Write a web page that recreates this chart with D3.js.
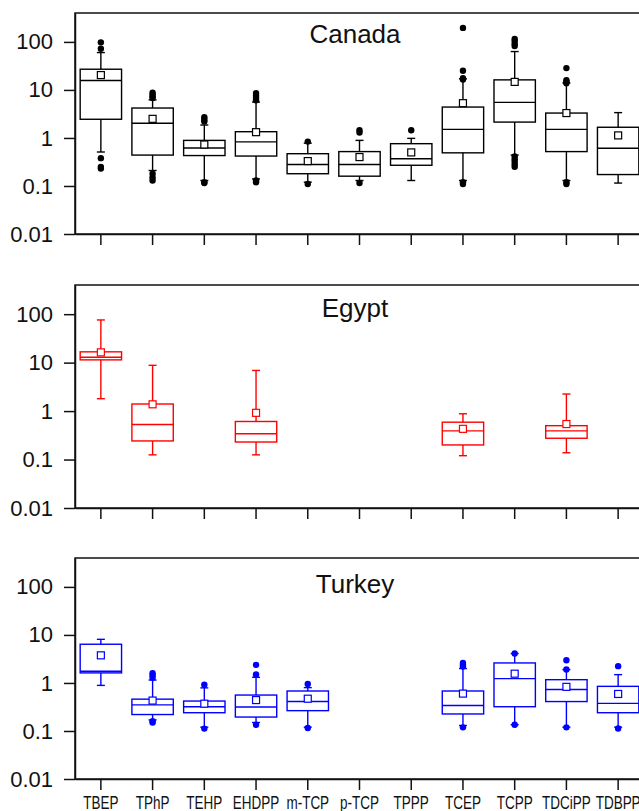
<!DOCTYPE html>
<html>
<head>
<meta charset="utf-8">
<script src="https://cdn.jsdelivr.net/npm/d3@7"></script>
<style>
  body { margin: 0; background: #fff; }
  svg { display: block; font-family: "Liberation Sans", Arial, sans-serif; }
</style>
</head>
<body>
<div class="chart"></div>
<script>

var width = 639,
    height = 811;

// compounds on the x axis
var categories = ["TBEP", "TPhP", "TEHP", "EHDPP", "m-TCP", "p-TCP", "TPPP", "TCEP", "TCPP", "TDCiPP", "TDBPP"];
var countries = ["Canada", "Egypt", "Turkey"];
var yTicks = [0.01, 0.1, 1, 10, 100];

// per compound: [lowWhisker, q1, median, q3, highWhisker, mean], null = not detected
var canadaStats = [
    [0.51, 2.45, 15.7, 27, 60, 20.4],
    [0.21, 0.44, 2.02, 4.2, 6.2, 2.5],
    [0.13, 0.43, 0.62, 0.89, 1.86, 0.73],
    [0.14, 0.42, 0.83, 1.35, 5.6, 1.32],
    [0.12, 0.18, 0.28, 0.47, 0.78, 0.33],
    [0.13, 0.16, 0.28, 0.52, 0.89, 0.40],
    [0.13, 0.27, 0.37, 0.76, 0.98, 0.5],
    [0.13, 0.49, 1.51, 4.4, 17, 5.3],
    [0.44, 2.14, 5.5, 16.2, 63, 14.7],
    [0.13, 0.52, 1.51, 3.3, 14, 3.3],
    [0.115, 0.173, 0.61, 1.67, 3.37, 1.13]
];
var canadaOutliers = [
    [98, 72, 0.38, 0.25, 0.23],
    [8.8, 8.0, 7.3, 6.8, 0.18, 0.15, 0.13],
    [2.7, 2.4, 2.2, 0.12, 0.115],
    [8.6, 7.6, 6.8, 6.1, 0.13, 0.12],
    [0.84, 0.11],
    [1.45, 1.3, 0.115],
    [1.45],
    [196, 25, 17.6, 16.5, 0.12, 0.11],
    [115, 105, 92, 82, 0.41, 0.36, 0.32, 0.28, 0.25],
    [28.5, 16, 14.8, 13.8, 0.12, 0.11],
    []
];

var egyptStats = [
    [1.8, 11.4, 12.9, 16.7, 76, 16.3],
    [0.125, 0.242, 0.527, 1.40, 8.8, 1.38],
    null,
    [0.125, 0.23, 0.34, 0.61, 6.9, 0.92],
    null,
    null,
    null,
    [0.12, 0.2, 0.39, 0.59, 0.88, 0.43],
    null,
    [0.138, 0.275, 0.39, 0.50, 2.25, 0.54],
    null
];
var egyptOutliers = [[], [], [], [], [], [], [], [], [], [], []];

var turkeyStats = [
    [0.89, 1.62, 1.75, 6.4, 8.1, 3.76],
    [0.17, 0.22, 0.35, 0.46, 1.15, 0.43],
    [0.12, 0.24, 0.32, 0.42, 0.79, 0.37],
    [0.15, 0.195, 0.316, 0.56, 1.31, 0.44],
    [0.12, 0.265, 0.41, 0.68, 0.8, 0.47],
    null,
    null,
    [0.13, 0.226, 0.34, 0.68, 2.0, 0.60],
    [0.135, 0.32, 1.23, 2.61, 4.1, 1.56],
    [0.12, 0.41, 0.73, 1.17, 1.9, 0.83],
    [0.12, 0.24, 0.376, 0.85, 1.49, 0.59]
];
var turkeyOutliers = [
    [],
    [1.6, 1.45, 1.28, 0.16, 0.15],
    [0.92, 0.112],
    [2.38, 1.5, 0.135],
    [0.95, 0.115],
    [],
    [],
    [2.6, 2.4, 2.2, 0.119],
    [4.1, 0.135],
    [2.96, 1.9, 0.119],
    [2.24, 0.113]
];

var allStats = [canadaStats, egyptStats, turkeyStats];
var allOutliers = [canadaOutliers, egyptOutliers, turkeyOutliers];
var colors = ["#000000", "#ff0000", "#0000ff"];

// layout of the three stacked panels
var left = 75, right = 644;
var panelTop = [13, 285, 558],
    panelBottom = [234, 508, 779],
    titleDy = [30, 32, 35];

var svg = d3.select(".chart")
    .append("svg")
    .attr("width", width)
    .attr("height", height);

var x = d3.scaleBand()
    .domain(categories)
    .range([left, right])
    .paddingInner(0)
    .paddingOuter(0);

var boxW = x.step() * 0.8;

countries.forEach(function (country, i) {
    var y = d3.scaleLog()
        .domain([0.01, 400])
        .range([panelBottom[i], panelTop[i]]);

    var g = svg.append("g").attr("class", "panel");
    var col = colors[i];

    // frame
    g.append("rect")
        .attr("x", left)
        .attr("y", panelTop[i])
        .attr("width", right - left)
        .attr("height", panelBottom[i] - panelTop[i])
        .attr("fill", "none")
        .attr("stroke", "#111")
        .attr("stroke-width", 1.5);

    // y axis
    var yAxis = g.append("g")
        .attr("transform", "translate(" + left + ",0)")
        .call(d3.axisLeft(y)
            .tickValues(yTicks)
            .tickFormat(function (d) { return String(d); })
            .tickSize(11)
            .tickSizeOuter(0)
            .tickPadding(11));
    yAxis.select(".domain").attr("stroke", "#111").attr("stroke-width", 1.5);
    yAxis.selectAll(".tick line").attr("stroke", "#111").attr("stroke-width", 1.5);
    yAxis.selectAll(".tick text")
        .attr("font-size", 22)
        .attr("fill", "#111")
        .attr("font-family", "'Liberation Sans', Arial, sans-serif");

    // x axis
    var xAxis = g.append("g")
        .attr("transform", "translate(0," + panelBottom[i] + ")")
        .call(d3.axisBottom(x)
            .tickSize(11)
            .tickSizeOuter(0)
            .tickFormat(i === 2 ? null : function () { return ""; }));
    xAxis.select(".domain").attr("stroke", "#111").attr("stroke-width", 1.5);
    xAxis.selectAll(".tick line").attr("stroke", "#111").attr("stroke-width", 1.5);
    xAxis.selectAll(".tick text")
        .attr("y", 30)
        .attr("dy", 0)
        .attr("font-size", 18)
        .attr("fill", "#111")
        .attr("font-family", "'Liberation Sans', Arial, sans-serif")
        .attr("transform", "scale(0.75,1)");

    // title
    g.append("text")
        .attr("x", 355)
        .attr("y", panelTop[i] + titleDy[i])
        .attr("text-anchor", "middle")
        .attr("font-size", 26)
        .attr("fill", "#111")
        .text(country);

    var stats = allStats[i],
        outs = allOutliers[i];

    categories.forEach(function (cat, j) {
        var s = stats[j];
        if (!s) return;
        var cx = x(cat) + x.bandwidth() / 2;
        var b = g.append("g").attr("class", "box");

        // whiskers
        b.append("line")
            .attr("x1", cx).attr("x2", cx)
            .attr("y1", y(s[0])).attr("y2", y(s[1]))
            .attr("stroke", col).attr("stroke-width", 1.4);
        b.append("line")
            .attr("x1", cx).attr("x2", cx)
            .attr("y1", y(s[3])).attr("y2", y(s[4]))
            .attr("stroke", col).attr("stroke-width", 1.4);
        [s[0], s[4]].forEach(function (v) {
            b.append("line")
                .attr("x1", cx - 4).attr("x2", cx + 4)
                .attr("y1", y(v)).attr("y2", y(v))
                .attr("stroke", col).attr("stroke-width", 1.4);
        });

        // box
        b.append("rect")
            .attr("x", cx - boxW / 2)
            .attr("y", y(s[3]))
            .attr("width", boxW)
            .attr("height", y(s[1]) - y(s[3]))
            .attr("fill", "none")
            .attr("stroke", col)
            .attr("stroke-width", 1.4);
        b.append("line")
            .attr("x1", cx - boxW / 2).attr("x2", cx + boxW / 2)
            .attr("y1", y(s[2])).attr("y2", y(s[2]))
            .attr("stroke", col).attr("stroke-width", 1.4);

        // outliers
        b.selectAll("circle")
            .data(outs[j])
            .enter().append("circle")
            .attr("cx", cx)
            .attr("cy", function (d) { return y(d); })
            .attr("r", 3.2)
            .attr("fill", col);

        // mean
        b.append("rect")
            .attr("x", cx - 3.5)
            .attr("y", y(s[5]) - 3.5)
            .attr("width", 7)
            .attr("height", 7)
            .attr("fill", "#fff")
            .attr("stroke", col)
            .attr("stroke-width", 1.2);
    });
});

</script>
</body>
</html>
